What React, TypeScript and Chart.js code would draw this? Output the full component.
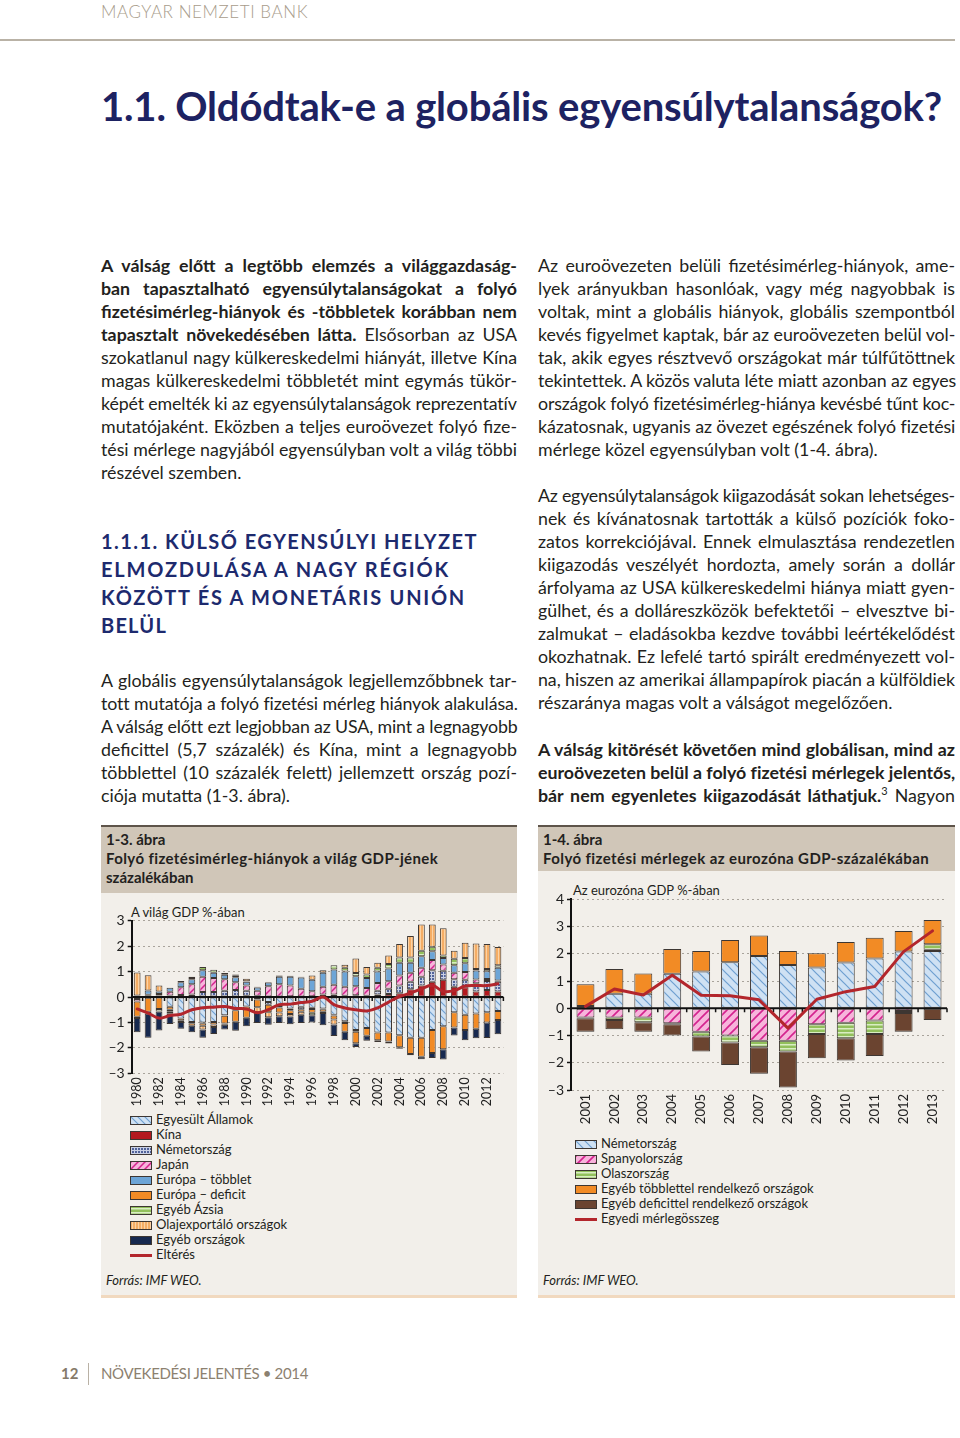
import React, { useEffect, useLayoutEffect, useRef } from 'react';
import { Chart, registerables } from 'chart.js';
Chart.register(...registerables);

const FONT = 'Lato, "Open Sans", sans-serif';
Chart.defaults.font.family = FONT;

// ---------------- Chart 1 data (1-3. ábra) ----------------
const years1 = ['1980','1981','1982','1983','1984','1985','1986','1987','1988','1989','1990','1991','1992','1993','1994','1995','1996','1997','1998','1999','2000','2001','2002','2003','2004','2005','2006','2007','2008','2009','2010','2011','2012','2013'];
const usa = [0.02,0.04,-0.02,-0.38,-0.85,-0.98,-1.0,-0.98,-0.72,-0.5,-0.37,0.0,-0.2,-0.3,-0.45,-0.38,-0.42,-0.45,-0.7,-0.95,-1.3,-1.22,-1.4,-1.4,-1.5,-1.6,-1.6,-1.3,-1.15,-0.6,-0.7,-0.65,-0.6,-0.55];
const china = [0.0,0.01,0.03,0.02,0.01,-0.05,-0.03,0.0,-0.02,-0.02,0.05,0.05,0.02,-0.05,0.03,0.02,0.03,0.1,0.1,0.05,0.07,0.05,0.1,0.12,0.15,0.3,0.45,0.6,0.68,0.4,0.38,0.22,0.28,0.22];
const germany1 = [-0.08,-0.03,0.03,0.04,0.07,0.1,0.2,0.2,0.25,0.28,0.2,-0.1,-0.1,-0.06,-0.07,-0.1,-0.05,-0.03,-0.03,-0.07,-0.07,0.0,0.15,0.2,0.3,0.3,0.35,0.45,0.35,0.3,0.3,0.32,0.35,0.38];
const japan = [-0.1,0.04,0.06,0.15,0.3,0.4,0.6,0.55,0.45,0.3,0.2,0.2,0.4,0.5,0.42,0.3,0.2,0.3,0.38,0.35,0.35,0.3,0.3,0.3,0.4,0.35,0.35,0.4,0.25,0.25,0.3,0.15,0.08,0.05];
const europeSurplus = [0.04,0.17,0.1,0.15,0.2,0.2,0.25,0.2,0.17,0.2,0.15,0.12,0.15,0.3,0.35,0.45,0.45,0.55,0.6,0.6,0.4,0.4,0.45,0.5,0.5,0.4,0.45,0.35,0.25,0.3,0.35,0.35,0.3,0.5];
const europeDeficit = [-0.6,-0.55,-0.45,-0.12,-0.08,-0.1,-0.1,-0.1,-0.3,-0.45,-0.45,-0.3,-0.3,-0.2,-0.15,-0.1,-0.15,-0.1,-0.15,-0.35,-0.45,-0.3,-0.3,-0.35,-0.48,-0.64,-0.75,-0.9,-0.9,-0.6,-0.6,-0.6,-0.4,-0.35];
const otherAsia = [-0.05,-0.07,-0.1,-0.08,-0.05,0.05,0.13,0.12,0.07,0.08,0.02,0.03,0.02,0.05,0.04,0.03,-0.1,-0.05,0.17,0.15,0.12,0.13,0.15,0.18,0.2,0.2,0.22,0.18,0.1,0.25,0.2,0.06,0.09,0.1];
const oilExporters = [0.9,0.6,0.23,-0.08,0.05,0.05,-0.15,-0.1,-0.05,0.02,0.1,-0.2,-0.2,-0.15,-0.1,-0.12,0.17,0.1,-0.2,0.12,0.57,0.3,0.2,0.33,0.53,0.85,1.03,0.87,1.07,0.32,0.6,1.0,0.98,0.72];
const otherCountries = [-0.56,-0.95,-0.75,-0.4,-0.27,-0.26,-0.32,-0.27,-0.19,-0.36,-0.33,-0.42,-0.29,-0.26,-0.3,-0.32,-0.28,-0.48,-0.45,-0.33,-0.15,-0.2,-0.07,-0.08,-0.05,-0.05,-0.1,-0.2,-0.41,-0.31,-0.4,-0.37,-0.61,-0.56];
const discrepancy = [-0.47,-0.63,-0.83,-0.73,-0.68,-0.5,-0.42,-0.4,-0.37,-0.45,-0.47,-0.62,-0.5,-0.3,-0.28,-0.22,-0.17,0.0,-0.3,-0.43,-0.5,-0.55,-0.43,-0.2,0.02,0.15,0.32,0.46,0.22,0.25,0.43,0.45,0.45,0.52];

// ---------------- Chart 2 data (1-4. ábra) ----------------
const years2 = ['2001','2002','2003','2004','2005','2006','2007','2008','2009','2010','2011','2012','2013'];
const germany2 = [0.08,0.53,0.53,1.27,1.35,1.69,1.92,1.59,1.5,1.68,1.83,2.08,2.1];
const spain2 = [-0.34,-0.34,-0.34,-0.55,-0.86,-1.0,-1.19,-1.19,-0.59,-0.53,-0.45,-0.1,0.05];
const italy2 = [-0.03,-0.09,-0.17,-0.04,-0.18,-0.26,-0.24,-0.4,-0.35,-0.57,-0.49,-0.07,0.2];
const otherSurplus2 = [0.8,0.91,0.75,0.91,0.75,0.82,0.75,0.51,0.52,0.75,0.76,0.76,0.89];
const otherDeficit2 = [-0.49,-0.34,-0.35,-0.41,-0.55,-0.82,-0.97,-1.32,-0.89,-0.82,-0.81,-0.69,-0.43];
const balance2 = [0.07,0.71,0.49,1.21,0.48,0.46,0.31,-0.73,0.33,0.61,0.8,2.08,2.84];

const yTicks1 = [-3,-2,-1,0,1,2,3];
const yTicks2 = [-3,-2,-1,0,1,2,3,4];

// ---------------- patterns ----------------
function tile(w: number, h: number, bg: string, draw: (c: CanvasRenderingContext2D) => void) {
  const cv = document.createElement('canvas');
  cv.width = w; cv.height = h;
  const c = cv.getContext('2d')!;
  c.fillStyle = bg; c.fillRect(0, 0, w, h);
  draw(c);
  return cv;
}
function back(n: number, bg: string, fg: string, lw: number) {
  return tile(n, n, bg, c => {
    c.strokeStyle = fg; c.lineWidth = lw; c.beginPath();
    c.moveTo(-1, -1); c.lineTo(n + 1, n + 1);
    c.moveTo(-1, n - 1); c.lineTo(1, n + 1);
    c.moveTo(n - 1, -1); c.lineTo(n + 1, 1);
    c.stroke();
  });
}
function fwd(n: number, bg: string, fg: string, lw: number) {
  return tile(n, n, bg, c => {
    c.strokeStyle = fg; c.lineWidth = lw; c.beginPath();
    c.moveTo(-1, n + 1); c.lineTo(n + 1, -1);
    c.moveTo(-1, 1); c.lineTo(1, -1);
    c.moveTo(n - 1, n + 1); c.lineTo(n + 1, n - 1);
    c.stroke();
  });
}
const TILES = {
  blue1: back(7, '#cfe1f3', '#6e9fd0', 1.1),
  pink1: fwd(7, '#f7b4db', '#d4238e', 1.5),
  blue2: back(9, '#cfe1f3', '#6e9fd0', 1.2),
  pink2: fwd(9, '#f7b4db', '#d4238e', 1.6),
  grid: tile(3, 3, '#52639a', c => { c.fillStyle = '#c9d0e4'; c.fillRect(0, 0, 3, 1); c.fillRect(0, 0, 1, 3); }),
  green: tile(4, 4, '#92c05c', c => { c.fillStyle = '#d9edc3'; c.fillRect(0, 1, 4, 1.5); }),
  peach: tile(3, 3, '#f5ad65', c => { c.fillStyle = '#fbd2a4'; c.fillRect(1, 0, 1, 3); }),
};
const pat = (cv: HTMLCanvasElement) => cv.getContext('2d')!.createPattern(cv, 'repeat')!;
const url = (cv: HTMLCanvasElement) => `url(${cv.toDataURL()})`;

const C = {
  china: '#b3191f', eurS: '#6da5d7', eurD: '#f28b25', other: '#17294f',
  line: '#b3262c', orange: '#f28b25', brown: '#6b4430', border: '#3d3632',
};

// ---------------- chart helpers ----------------
const zeroAxis = {
  id: 'zeroAxis',
  afterDatasetDraw(chart: any, args: any) {
    if (args.index !== 0) return;
    const { ctx, chartArea, scales } = chart;
    const y0 = scales.y.getPixelForValue(0);
    const n = chart.data.labels.length;
    ctx.save();
    ctx.strokeStyle = '#111';
    ctx.lineWidth = 2;
    ctx.beginPath(); ctx.moveTo(chartArea.left, y0); ctx.lineTo(chartArea.right, y0); ctx.stroke();
    ctx.lineWidth = 1.5; ctx.beginPath();
    for (let i = 1; i <= n; i++) {
      const xp = chartArea.left + (chartArea.right - chartArea.left) * i / n;
      ctx.moveTo(xp, y0); ctx.lineTo(xp, y0 + 4);
    }
    ctx.stroke();
    ctx.restore();
  },
};

const minus = (v: number) => (v < 0 ? '\u2013' + Math.abs(v) : String(v));

function makeConfig(labels: string[], bars: any[], line: any, ticks: number[], o: any) {
  return {
    type: 'bar',
    data: {
      labels,
      datasets: [
        ...bars.map(b => ({
          type: 'bar', label: b.label, data: b.data, backgroundColor: b.bg,
          borderColor: C.border, borderWidth: 1, borderSkipped: false,
          barPercentage: 0.62, categoryPercentage: 1, order: 1, stack: 's',
        })),
        {
          type: 'line', label: line.label, data: line.data, borderColor: C.line,
          borderWidth: 3, pointRadius: 0, tension: o.tension, order: 0, stack: 'line',
          borderCapStyle: 'round', borderJoinStyle: 'round',
        },
      ],
    },
    options: {
      animation: false, responsive: false, maintainAspectRatio: false,
      layout: { padding: o.padding },
      plugins: { legend: { display: false }, tooltip: { enabled: false }, title: { display: false } },
      scales: {
        x: {
          stacked: true, offset: true,
          grid: { display: false, drawTicks: false },
          border: { display: false },
          ticks: {
            autoSkip: false, minRotation: 90, maxRotation: 90, padding: 4,
            color: '#222', font: { size: o.xfs, family: FONT },
            callback: (_v: any, i: number) => (i % o.every === 0 ? labels[i] : ''),
          },
          afterFit: (s: any) => { s.height = o.xh; },
        },
        y: {
          stacked: true, min: ticks[0], max: ticks[ticks.length - 1],
          afterBuildTicks: (s: any) => { s.ticks = ticks.map(v => ({ value: v })); },
          ticks: { color: '#222', font: { size: 14, family: FONT }, padding: 3, callback: (v: number) => minus(v) },
          grid: { color: '#a8a39b', lineWidth: 1, drawTicks: true, tickLength: 4, tickColor: '#111', tickWidth: 1.5, tickBorderDash: [] },
          border: { display: true, color: '#111', width: 2, dash: [2, 3] },
          afterFit: (s: any) => { s.width = o.yw; },
        },
      },
    },
    plugins: [zeroAxis],
  };
}

function ChartCanvas({ left, top, width, height, build }: any) {
  const ref = useRef<HTMLCanvasElement>(null);
  useEffect(() => {
    const ch = new Chart(ref.current!, build());
    return () => ch.destroy();
  }, []);
  return <canvas ref={ref} width={width} height={height} style={{ position: 'absolute', left, top, width, height }} />;
}

// ---------------- text helpers ----------------
function Txt({ x, y, w, mode = 'n', style, children }: any) {
  return (
    <div data-fit={w || 0} data-mode={mode}
      style={{ position: 'absolute', left: x, top: y, whiteSpace: 'nowrap', transformOrigin: 'left center', ...style }}>
      {children}
    </div>
  );
}

const body: React.CSSProperties = { fontFamily: FONT, fontSize: 17.8, lineHeight: '23px', color: '#231f20' };

function Para({ x, cy, w, lines, justLast }: any) {
  return (
    <>
      {lines.map((l: any, i: number) => (
        <Txt key={i} x={x} y={cy + i * 23 - 12} w={w} mode={i === lines.length - 1 && !justLast ? 'n' : 'j'} style={body}>
          {l}
        </Txt>
      ))}
    </>
  );
}

const leftP1 = [
  <b>A válság előtt a legtöbb elemzés a világgazdaság-</b>,
  <b>ban tapasztalható egyensúlytalanságokat a folyó</b>,
  <b>fizetésimérleg-hiányok és -többletek korábban nem</b>,
  <><b>tapasztalt növekedésében látta.</b> Elsősorban az USA</>,
  'szokatlanul nagy külkereskedelmi hiányát, illetve Kína',
  'magas külkereskedelmi többletét mint egymás tükör-',
  'képét emelték ki az egyensúlytalanságok reprezentatív',
  'mutatójaként. Eközben a teljes euroövezet folyó fize-',
  'tési mérlege nagyjából egyensúlyban volt a világ többi',
  'részével szemben.',
];
const leftP2 = [
  'A globális egyensúlytalanságok legjellemzőbbnek tar-',
  'tott mutatója a folyó fizetési mérleg hiányok alakulása.',
  'A válság előtt ezt legjobban az USA, mint a legnagyobb',
  'deficittel (5,7 százalék) és Kína, mint a legnagyobb',
  'többlettel (10 százalék felett) jellemzett ország pozí-',
  'ciója mutatta (1-3. ábra).',
];
const rightP1 = [
  'Az euroövezeten belüli fizetésimérleg-hiányok, ame-',
  'lyek arányukban hasonlóak, vagy még nagyobbak is',
  'voltak, mint a globális hiányok, globális szempontból',
  'kevés figyelmet kaptak, bár az euroövezeten belül vol-',
  'tak, akik egyes résztvevő országokat már túlfűtöttnek',
  'tekintettek. A közös valuta léte miatt azonban az egyes',
  'országok folyó fizetésimérleg-hiánya kevésbé tűnt koc-',
  'kázatosnak, ugyanis az övezet egészének folyó fizetési',
  'mérlege közel egyensúlyban volt (1-4. ábra).',
];
const rightP2 = [
  'Az egyensúlytalanságok kiigazodását sokan lehetséges-',
  'nek és kívánatosnak tartották a külső pozíciók foko-',
  'zatos korrekciójával. Ennek elmulasztása rendezetlen',
  'kiigazodás veszélyét hordozta, amely során a dollár',
  'árfolyama az USA külkereskedelmi hiánya miatt gyen-',
  'gülhet, és a dolláreszközök befektetői – elvesztve bi-',
  'zalmukat – eladásokba kezdve további leértékelődést',
  'okozhatnak. Ez lefelé tartó spirált eredményezett vol-',
  'na, hiszen az amerikai állampapírok piacán a külföldiek',
  'részaránya magas volt a válságot megelőzően.',
];
const rightP3 = [
  <b>A válság kitörését követően mind globálisan, mind az</b>,
  <b>euroövezeten belül a folyó fizetési mérlegek jelentős,</b>,
  <><b>bár nem egyenletes kiigazodását láthatjuk.</b><sup style={{ fontSize: 11, lineHeight: 0 }}>3</sup> Nagyon</>,
];
const headingLines = [
  ['1.1.1. KÜLSŐ EGYENSÚLYI HELYZET', 377],
  ['ELMOZDULÁSA A NAGY RÉGIÓK', 349],
  ['KÖZÖTT ÉS A MONETÁRIS UNIÓN', 365],
  ['BELÜL', 66],
];

const legend1 = [
  ['Egyesült Államok', url(TILES.blue1)],
  ['Kína', C.china],
  ['Németország', url(TILES.grid)],
  ['Japán', url(TILES.pink1)],
  ['Európa – többlet', C.eurS],
  ['Európa – deficit', C.eurD],
  ['Egyéb Ázsia', url(TILES.green)],
  ['Olajexportáló országok', url(TILES.peach)],
  ['Egyéb országok', C.other],
  ['Eltérés', 'line'],
];
const legend2 = [
  ['Németország', url(TILES.blue2)],
  ['Spanyolország', url(TILES.pink2)],
  ['Olaszország', url(TILES.green)],
  ['Egyéb többlettel rendelkező országok', C.orange],
  ['Egyéb deficittel rendelkező országok', C.brown],
  ['Egyedi mérlegösszeg', 'line'],
];

function Legend({ x, cy, items }: any) {
  return (
    <>
      {items.map(([label, fill]: any, i: number) => {
        const c = cy + i * 15;
        return (
          <React.Fragment key={i}>
            {fill === 'line' ? (
              <div style={{ position: 'absolute', left: x, top: c - 1.5, width: 22, height: 3, background: C.line }} />
            ) : (
              <div style={{
                position: 'absolute', left: x, top: c - 4.5, width: 22, height: 9, boxSizing: 'border-box',
                border: `1px solid ${C.border}`,
                background: fill.startsWith('url') ? undefined : fill,
                backgroundImage: fill.startsWith('url') ? fill : undefined,
              }} />
            )}
            <Txt x={x + 26} y={c - 8} style={{ fontFamily: FONT, fontSize: 13, lineHeight: '15px', color: '#231f20' }}>{label}</Txt>
          </React.Fragment>
        );
      })}
    </>
  );
}

function Box({ x, w, headH, lines }: any) {
  const hs: React.CSSProperties = { fontFamily: FONT, fontSize: 15, fontWeight: 700, lineHeight: '19px', color: '#231f20' };
  return (
    <>
      <div style={{ position: 'absolute', left: x, top: 825, width: w, height: 473, boxSizing: 'border-box', background: '#f2efea', borderTop: '2px solid #5e544a', borderBottom: '3px solid #f1d9bf' }} />
      <div style={{ position: 'absolute', left: x, top: 827, width: w, height: headH, background: '#d0c6b8' }} />
      {lines.map(([t, tw]: any, i: number) => (
        <Txt key={i} x={x + 5} y={840 + i * 19 - 10} w={tw} mode={tw ? 'w' : 'n'} style={hs}>{t}</Txt>
      ))}
      <Txt x={x + 5} y={1281 - 8} style={{ fontFamily: FONT, fontSize: 13, fontStyle: 'italic', lineHeight: '15px', color: '#231f20' }}>Forrás: IMF WEO.</Txt>
    </>
  );
}

function build1() {
  return makeConfig(years1, [
    { label: 'Egyesült Államok', data: usa, bg: pat(TILES.blue1) },
    { label: 'Kína', data: china, bg: C.china },
    { label: 'Németország', data: germany1, bg: pat(TILES.grid) },
    { label: 'Japán', data: japan, bg: pat(TILES.pink1) },
    { label: 'Európa – többlet', data: europeSurplus, bg: C.eurS },
    { label: 'Európa – deficit', data: europeDeficit, bg: C.eurD },
    { label: 'Egyéb Ázsia', data: otherAsia, bg: pat(TILES.green) },
    { label: 'Olajexportáló országok', data: oilExporters, bg: pat(TILES.peach) },
    { label: 'Egyéb országok', data: otherCountries, bg: C.other },
  ], { label: 'Eltérés', data: discrepancy }, yTicks1,
  { tension: 0.35, padding: { left: 0, right: 5, top: 27.7, bottom: 1.7 }, xh: 35, yw: 30.7, every: 2, xfs: 12.5 });
}
function build2() {
  return makeConfig(years2, [
    { label: 'Németország', data: germany2, bg: pat(TILES.blue2) },
    { label: 'Spanyolország', data: spain2, bg: pat(TILES.pink2) },
    { label: 'Olaszország', data: italy2, bg: pat(TILES.green) },
    { label: 'Egyéb többlettel rendelkező országok', data: otherSurplus2, bg: C.orange },
    { label: 'Egyéb deficittel rendelkező országok', data: otherDeficit2, bg: C.brown },
  ], { label: 'Egyedi mérlegösszeg', data: balance2 }, yTicks2,
  { tension: 0, padding: { left: 0, right: 8, top: 24.3, bottom: 2 }, xh: 36, yw: 33, every: 1, xfs: 13 });
}

export default function App() {
  useLayoutEffect(() => {
    document.querySelectorAll<HTMLElement>('[data-fit]').forEach(el => {
      const target = parseFloat(el.dataset.fit || '0');
      const mode = el.dataset.mode;
      if (!target) return;
      const w = el.getBoundingClientRect().width;
      const text = el.textContent || '';
      const n = text.length;
      if (mode === 'j') {
        if (w > target) el.style.letterSpacing = `${(target - w) / n}px`;
        else {
          const spaces = (text.match(/ /g) || []).length;
          if (spaces) el.style.wordSpacing = `${(target - w) / spaces}px`;
        }
      } else if (mode === 'w') {
        const base = parseFloat(getComputedStyle(el).letterSpacing) || 0;
        const per = (target - w) / n;
        if (per >= -0.6) el.style.letterSpacing = `${base + per}px`;
        else el.style.transform = `scaleX(${target / w})`;
      }
    });
  }, []);

  return (
    <div style={{ position: 'absolute', left: 0, top: 0, width: 960, height: 1438, background: '#fff', overflow: 'hidden', fontFamily: FONT }}>
      <Txt x={101} y={1} w={207} mode="w" style={{ fontFamily: FONT, fontSize: 17, fontWeight: 300, lineHeight: '22px', color: '#a89c8b' }}>MAGYAR NEMZETI BANK</Txt>
      <div style={{ position: 'absolute', left: 0, top: 39, width: 955, height: 2, background: '#b9b2a6' }} />
      <Txt x={101} y={81.5} w={841} mode="w" style={{ fontFamily: FONT, fontSize: 40, fontWeight: 700, lineHeight: '48px', color: '#1d2262' }}>1.1. Oldódtak-e a globális egyensúlytalanságok?</Txt>

      <Para x={101} cy={266} w={416} lines={leftP1} />
      {headingLines.map(([t, tw], i) => (
        <Txt key={i} x={101} y={541 + i * 28.3 - 14.5} w={tw} mode="w" style={{ fontFamily: FONT, fontSize: 20, fontWeight: 700, lineHeight: '28px', letterSpacing: 1, color: '#1d2a6e' }}>{t}</Txt>
      ))}
      <Para x={101} cy={681} w={416} lines={leftP2} />

      <Para x={538} cy={266} w={417} lines={rightP1} />
      <Para x={538} cy={496} w={417} lines={rightP2} />
      <Para x={538} cy={750} w={417} lines={rightP3} justLast />

      <Box x={101} w={416} headH={66} lines={[['1-3. ábra', 0], ['Folyó fizetésimérleg-hiányok a világ GDP-jének', 332], ['százalékában', 0]]} />
      <Box x={538} w={417} headH={44} lines={[['1-4. ábra', 0], ['Folyó fizetési mérlegek az eurozóna GDP-százalékában', 386]]} />

      <Txt x={131} y={903.5} style={{ fontFamily: FONT, fontSize: 13, lineHeight: '16px', color: '#231f20' }}>A világ GDP %-ában</Txt>
      <Txt x={573} y={882} style={{ fontFamily: FONT, fontSize: 13, lineHeight: '16px', color: '#231f20' }}>Az eurozóna GDP %-ában</Txt>

      <ChartCanvas left={101} top={893} width={416} height={217} build={build1} />
      <ChartCanvas left={538} top={875} width={417} height={253} build={build2} />

      <Legend x={130} cy={1120} items={legend1} />
      <Legend x={575} cy={1144} items={legend2} />

      <Txt x={61} y={1373 - 10} style={{ fontFamily: FONT, fontSize: 15, fontWeight: 700, lineHeight: '20px', color: '#857a69' }}>12</Txt>
      <div style={{ position: 'absolute', left: 88, top: 1363, width: 1, height: 22, background: '#b9b1a5' }} />
      <Txt x={101} y={1373 - 10} w={207} mode="w" style={{ fontFamily: FONT, fontSize: 15, lineHeight: '20px', color: '#8c8170' }}>NÖVEKEDÉSI JELENTÉS • 2014</Txt>
    </div>
  );
}
